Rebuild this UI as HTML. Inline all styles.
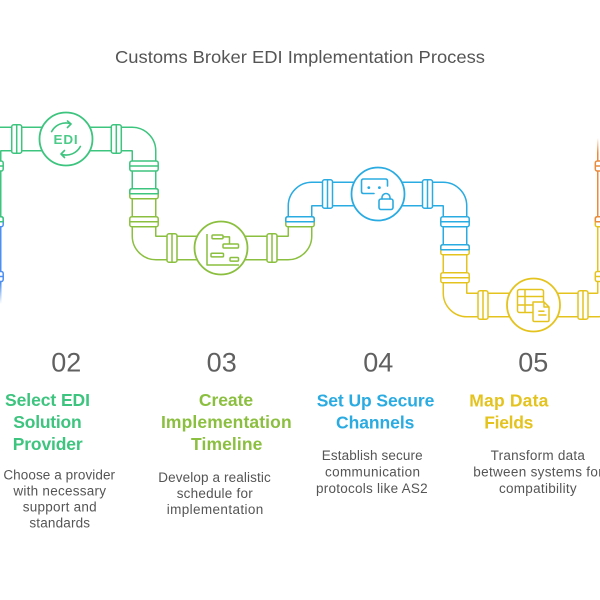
<!DOCTYPE html>
<html><head><meta charset="utf-8"><style>
html,body{margin:0;padding:0;background:#fff;}
svg{display:block;}
text{font-family:"Liberation Sans",Arial,sans-serif;}
</style></head><body>
<svg width="600" height="600" viewBox="0 0 600 600" xmlns="http://www.w3.org/2000/svg">
<defs>
  <linearGradient id="fadeDown" x1="0" y1="0" x2="0" y2="1">
    <stop offset="0" stop-color="#fff" stop-opacity="0"/>
    <stop offset="1" stop-color="#fff" stop-opacity="1"/>
  </linearGradient>
  <linearGradient id="fadeUp" x1="0" y1="0" x2="0" y2="1">
    <stop offset="0" stop-color="#fff" stop-opacity="1"/>
    <stop offset="1" stop-color="#fff" stop-opacity="0"/>
  </linearGradient>
</defs>

<!-- Title -->
<text x="300" y="63" text-anchor="middle" font-size="17.5" fill="#555" textLength="370" lengthAdjust="spacingAndGlyphs">Customs Broker EDI Implementation Process</text>

<!-- Pipe colored outlines -->
<g fill="none" stroke-width="25" stroke-linecap="butt">
  <path d="M -11 330 V 221.7" stroke="#4c8ff0"/>
  <path d="M -11 221.7 V 151 A 12 12 0 0 1 1 139 H 132 A 12 12 0 0 1 144 151 V 193.7" stroke="#3dc47e"/>
  <path d="M 144 193.7 V 236 A 12 12 0 0 0 156 248 H 288 A 12 12 0 0 0 300 236 V 221.7" stroke="#8bbf3f"/>
  <path d="M 300 221.7 V 206 A 12 12 0 0 1 312 194 H 443 A 12 12 0 0 1 455 206 V 249.7" stroke="#2aabe1"/>
  <path d="M 455 249.7 V 293 A 12 12 0 0 0 467 305 H 597.5 A 12 12 0 0 0 609.5 293 V 221.7" stroke="#e4c31f"/>
  <path d="M 609.5 221.7 V 100" stroke="#e98a3c"/>
</g>
<!-- Pipe white interiors -->
<g fill="none" stroke="#fff" stroke-width="22" stroke-linecap="butt">
  <path d="M -11 330 V 221.7"/>
  <path d="M -11 221.7 V 151 A 12 12 0 0 1 1 139 H 132 A 12 12 0 0 1 144 151 V 193.7"/>
  <path d="M 144 193.7 V 236 A 12 12 0 0 0 156 248 H 288 A 12 12 0 0 0 300 236 V 221.7"/>
  <path d="M 300 221.7 V 206 A 12 12 0 0 1 312 194 H 443 A 12 12 0 0 1 455 206 V 249.7"/>
  <path d="M 455 249.7 V 293 A 12 12 0 0 0 467 305 H 597.5 A 12 12 0 0 0 609.5 293 V 221.7"/>
  <path d="M 609.5 221.7 V 100"/>
</g>

<!-- Fades -->
<rect x="-30" y="283" width="36" height="21" fill="url(#fadeDown)"/>
<rect x="-30" y="304" width="36" height="40" fill="#fff"/>
<rect x="590" y="95" width="15" height="43" fill="#fff"/>
<rect x="590" y="138" width="15" height="15" fill="url(#fadeUp)"/>

<!-- Couplings on horizontal pipes -->
<g fill="#fff" stroke-width="1.5">
  <g stroke="#3dc47e">
    <rect x="11.7" y="124.8" width="10" height="28.4" rx="2"/><line x1="16.7" y1="124.8" x2="16.7" y2="153.2"/>
    <rect x="111.3" y="124.8" width="10" height="28.4" rx="2"/><line x1="116.3" y1="124.8" x2="116.3" y2="153.2"/>
  </g>
  <g stroke="#8bbf3f">
    <rect x="167" y="233.8" width="10" height="28.4" rx="2"/><line x1="172" y1="233.8" x2="172" y2="262.2"/>
    <rect x="267" y="233.8" width="10" height="28.4" rx="2"/><line x1="272" y1="233.8" x2="272" y2="262.2"/>
  </g>
  <g stroke="#2aabe1">
    <rect x="322.5" y="179.8" width="10" height="28.4" rx="2"/><line x1="327.5" y1="179.8" x2="327.5" y2="208.2"/>
    <rect x="422.5" y="179.8" width="10" height="28.4" rx="2"/><line x1="427.5" y1="179.8" x2="427.5" y2="208.2"/>
  </g>
  <g stroke="#e4c31f">
    <rect x="478" y="290.8" width="10" height="28.4" rx="2"/><line x1="483" y1="290.8" x2="483" y2="319.2"/>
    <rect x="578" y="290.8" width="10" height="28.4" rx="2"/><line x1="583" y1="290.8" x2="583" y2="319.2"/>
  </g>
</g>

<!-- Couplings on vertical pipes -->
<g fill="#fff" stroke-width="1.5">
  <!-- left pipe -->
  <rect x="-25.2" y="161" width="28.4" height="10" rx="2" stroke="#3dc47e"/><line x1="-25.2" y1="166" x2="3.2" y2="166" stroke="#3dc47e"/>
  <rect x="-25.2" y="216.7" width="28.4" height="10" rx="2" stroke="#4c8ff0"/>
  <path d="M -25.2 221.7 V 218.7 Q -25.2 216.7 -23.2 216.7 H 1.2 Q 3.2 216.7 3.2 218.7 V 221.7" stroke="#3dc47e" fill="none"/>
  <line x1="-25.2" y1="221.7" x2="3.2" y2="221.7" stroke="#3dc47e"/>
  <rect x="-25.2" y="271.5" width="28.4" height="10" rx="2" stroke="#4c8ff0"/><line x1="-25.2" y1="276.5" x2="3.2" y2="276.5" stroke="#4c8ff0"/>

  <!-- x=144 -->
  <rect x="129.8" y="161" width="28.4" height="10" rx="2" stroke="#3dc47e"/><line x1="129.8" y1="166" x2="158.2" y2="166" stroke="#3dc47e"/>
  <rect x="129.8" y="188.7" width="28.4" height="10" rx="2" stroke="#8bbf3f"/>
  <path d="M 129.8 193.7 V 190.7 Q 129.8 188.7 131.8 188.7 H 156.2 Q 158.2 188.7 158.2 190.7 V 193.7" stroke="#3dc47e" fill="none"/>
  <line x1="129.8" y1="193.7" x2="158.2" y2="193.7" stroke="#3dc47e"/>
  <rect x="129.8" y="216.7" width="28.4" height="10" rx="2" stroke="#8bbf3f"/><line x1="129.8" y1="221.7" x2="158.2" y2="221.7" stroke="#8bbf3f"/>

  <!-- x=300 -->
  <rect x="285.8" y="216.7" width="28.4" height="10" rx="2" stroke="#8bbf3f"/>
  <path d="M 285.8 221.7 V 218.7 Q 285.8 216.7 287.8 216.7 H 312.2 Q 314.2 216.7 314.2 218.7 V 221.7" stroke="#2aabe1" fill="none"/>
  <line x1="285.8" y1="221.7" x2="314.2" y2="221.7" stroke="#2aabe1"/>

  <!-- x=455 -->
  <rect x="440.8" y="216.7" width="28.4" height="10" rx="2" stroke="#2aabe1"/><line x1="440.8" y1="221.7" x2="469.2" y2="221.7" stroke="#2aabe1"/>
  <rect x="440.8" y="244.7" width="28.4" height="10" rx="2" stroke="#e4c31f"/>
  <path d="M 440.8 249.7 V 246.7 Q 440.8 244.7 442.8 244.7 H 467.2 Q 469.2 244.7 469.2 246.7 V 249.7" stroke="#2aabe1" fill="none"/>
  <line x1="440.8" y1="249.7" x2="469.2" y2="249.7" stroke="#2aabe1"/>
  <rect x="440.8" y="272.7" width="28.4" height="10" rx="2" stroke="#e4c31f"/><line x1="440.8" y1="277.7" x2="469.2" y2="277.7" stroke="#e4c31f"/>

  <!-- right pipe -->
  <rect x="595.3" y="161" width="28.4" height="10" rx="2" stroke="#e98a3c"/><line x1="595.3" y1="166" x2="623.7" y2="166" stroke="#e98a3c"/>
  <rect x="595.3" y="216.7" width="28.4" height="10" rx="2" stroke="#e4c31f"/>
  <path d="M 595.3 221.7 V 218.7 Q 595.3 216.7 597.3 216.7 H 621.7 Q 623.7 216.7 623.7 218.7 V 221.7" stroke="#e98a3c" fill="none"/>
  <line x1="595.3" y1="221.7" x2="623.7" y2="221.7" stroke="#e98a3c"/>
  <rect x="595.3" y="271.5" width="28.4" height="10" rx="2" stroke="#e4c31f"/><line x1="595.3" y1="276.5" x2="623.7" y2="276.5" stroke="#e4c31f"/>
</g>

<!-- Circles -->
<g fill="#fff" stroke-width="1.8">
  <circle cx="66" cy="139" r="26.5" stroke="#3dc47e"/>
  <circle cx="221" cy="248" r="26.5" stroke="#8bbf3f"/>
  <circle cx="378" cy="194" r="26.5" stroke="#2aabe1"/>
  <circle cx="533.5" cy="305" r="26.5" stroke="#e4c31f"/>
</g>

<!-- EDI icon -->
<g fill="none" stroke="#3dc47e" stroke-width="1.6" stroke-linecap="round" stroke-linejoin="round">
  <path d="M 51.6 131.6 A 16 16 0 0 1 70.6 123.7"/>
  <path d="M 67.5 121 L 71 124 L 67.5 127.5"/>
  <path d="M 80.4 146.4 A 16 16 0 0 1 61.4 154.3"/>
  <path d="M 64.5 150.5 L 61 154 L 64.5 157.5"/>
</g>
<text x="66" y="144.2" text-anchor="middle" font-size="13" font-weight="bold" fill="#4ccb88" letter-spacing="0.8" textLength="25" lengthAdjust="spacingAndGlyphs">EDI</text>

<!-- Gantt icon -->
<g fill="none" stroke="#8bbf3f" stroke-width="1.5" stroke-linejoin="round">
  <path d="M 207 234 V 265 H 239"/>
  <rect x="212" y="235" width="11" height="3.8" rx="1"/>
  <path d="M 223 236.9 H 229.5 V 244"/>
  <rect x="223" y="244" width="15.5" height="4" rx="1"/>
  <rect x="211" y="253.3" width="12.5" height="3.6" rx="1"/>
  <rect x="230" y="257.5" width="8.5" height="3.6" rx="1"/>
</g>

<!-- Secure channel icon -->
<g fill="none" stroke="#2aabe1" stroke-width="1.6" stroke-linecap="round" stroke-linejoin="round">
  <path d="M 374 193.5 H 363.5 Q 361.5 193.5 361.5 191.5 V 181 Q 361.5 179 363.5 179 H 385.5 Q 387.5 179 387.5 181 V 186"/>
  <rect x="379" y="199" width="14" height="10.5" rx="2"/>
  <path d="M 382 199 V 197.5 A 4 4 0 0 1 390 197.5 V 199"/>
</g>
<circle cx="368.8" cy="187.6" r="1.4" fill="#2aabe1"/>
<circle cx="379.4" cy="187.6" r="1.4" fill="#2aabe1"/>

<!-- Map data icon -->
<g fill="none" stroke="#e4c31f" stroke-width="1.5" stroke-linejoin="round">
  <rect x="517.5" y="289.5" width="26" height="23" rx="2"/>
  <line x1="517.5" y1="296.5" x2="543.5" y2="296.5"/>
  <line x1="525" y1="289.5" x2="525" y2="312.5"/>
  <line x1="517.5" y1="305" x2="533" y2="305"/>
  <path d="M 533 302 H 544 L 549 307 V 320 Q 549 321.5 547.5 321.5 H 534.5 Q 533 321.5 533 320 Z" fill="#fff"/>
  <path d="M 544 302 V 307 H 549"/>
  <line x1="538.3" y1="311.2" x2="544.5" y2="311.2"/>
  <line x1="538.3" y1="315" x2="546.5" y2="315"/>
</g>

<!-- Numbers -->
<g font-size="27" fill="#606060" text-anchor="middle">
  <text x="66.3" y="371.5">02</text>
  <text x="221.7" y="371.5">03</text>
  <text x="378.3" y="371.5">04</text>
  <text x="533.3" y="371.5">05</text>
</g>

<!-- Titles -->
<g font-size="17.5" font-weight="bold" text-anchor="middle" lengthAdjust="spacingAndGlyphs">
  <text x="47.5" y="406" fill="#3dc47e" textLength="85">Select EDI</text>
  <text x="47.5" y="428" fill="#3dc47e" textLength="68.4">Solution</text>
  <text x="47.7" y="450" fill="#3dc47e" textLength="70">Provider</text>

  <text x="226" y="406" fill="#8bbf3f" textLength="54.3">Create</text>
  <text x="226.3" y="428" fill="#8bbf3f" textLength="130.7">Implementation</text>
  <text x="226.7" y="450" fill="#8bbf3f" textLength="71.3">Timeline</text>

  <text x="375.5" y="406.5" fill="#2aabe1" textLength="117.6">Set Up Secure</text>
  <text x="375.2" y="428.3" fill="#2aabe1" textLength="78.3">Channels</text>

  <text x="508.8" y="406.5" fill="#e4c31f" textLength="79">Map Data</text>
  <text x="508.8" y="428.3" fill="#e4c31f" textLength="49">Fields</text>
</g>

<!-- Descriptions -->
<g font-size="13.5" fill="#555" text-anchor="middle" lengthAdjust="spacingAndGlyphs">
  <text x="59.2" y="479.5" textLength="111.7">Choose a provider</text>
  <text x="59.7" y="495.7" textLength="92.7">with necessary</text>
  <text x="59.7" y="511.7" textLength="74">support and</text>
  <text x="59.7" y="527.5" textLength="60.7">standards</text>

  <text x="214.5" y="482" textLength="112.4">Develop a realistic</text>
  <text x="214.7" y="498" textLength="76">schedule for</text>
  <text x="215" y="514" textLength="96.6">implementation</text>

  <text x="372.2" y="460" textLength="101">Establish secure</text>
  <text x="372.5" y="476.5" textLength="95">communication</text>
  <text x="371.8" y="493" textLength="111.7">protocols like AS2</text>

  <text x="537.8" y="460" textLength="94.3">Transform data</text>
  <text x="538" y="476.5" textLength="129.4">between systems for</text>
  <text x="537.8" y="493" textLength="77.7">compatibility</text>
</g>
</svg>
</body></html>
